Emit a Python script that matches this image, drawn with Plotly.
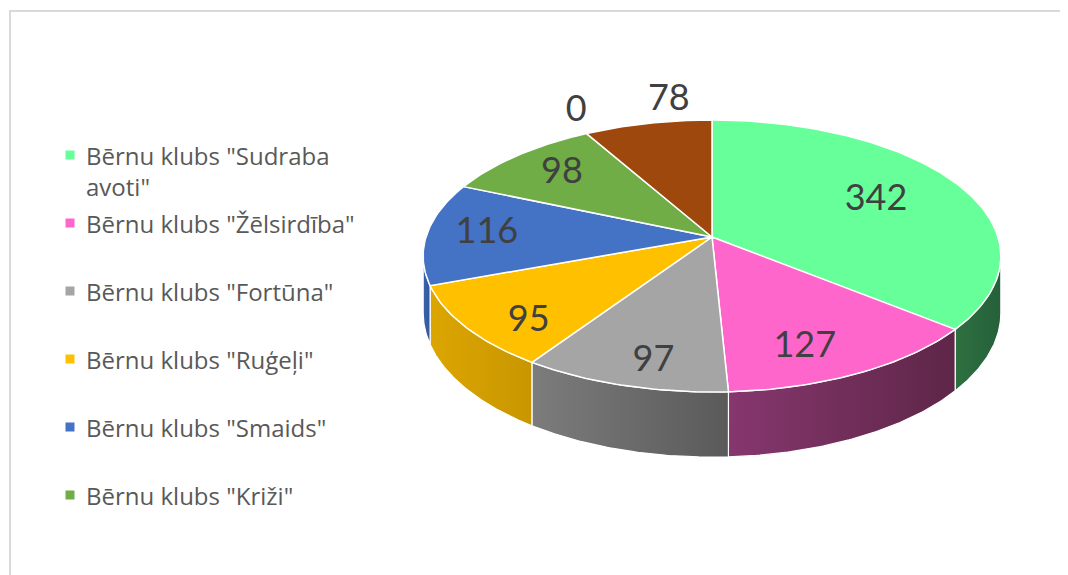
import numpy as np
import plotly.graph_objects as go

# ---- data ----
categories = [
    'Bērnu klubs "Sudraba avoti"',
    'Bērnu klubs "Žēlsirdība"',
    'Bērnu klubs "Fortūna"',
    'Bērnu klubs "Ruģeļi"',
    'Bērnu klubs "Smaids"',
    'Bērnu klubs "Križi"',
    "",
    "",
]
values = [342, 127, 97, 95, 116, 98, 0, 78]
legend_labels = [
    'Bērnu klubs "Sudraba<br>avoti"',
    'Bērnu klubs "Žēlsirdība"',
    'Bērnu klubs "Fortūna"',
    'Bērnu klubs "Ruģeļi"',
    'Bērnu klubs "Smaids"',
    'Bērnu klubs "Križi"',
]

# ---- styles ----
top_colors = ["#66FF99", "#FF66CC", "#A5A5A5", "#FFC000", "#4472C4", "#70AD47", "#264478", "#9E480E"]
side_colors = [
    ("#2E7040", "#25603A"),
    ("#86376E", "#5E2648"),
    ("#7C7C7C", "#5A5A5A"),
    ("#DCA600", "#C89600"),
    ("#3A64AE", "#33589A"),
    ("#5E9139", "#527F32"),
    ("#20396A", "#1C325C"),
    ("#853C0B", "#743409"),
]

W, Hpx = 1068, 575
OFF = 8                     # page body margin
cx, cy = 712.0, 237.0       # pie centre on the page
B, A = 286.0, 133.3         # horizontal / vertical radii
p = 0.14                    # perspective factor
H = 56.0                    # thickness


def proj(r, th, dz=0.0):
    X = r * np.sin(th)
    Z = r * np.cos(th)
    s = 1.0 / (1.0 + p * Z)
    return cx + B * X * s, cy - A * Z * s + H * dz * s


total = float(sum(values))
bounds = np.concatenate([[0.0], np.cumsum(values) / total * 2 * np.pi])

fig = go.Figure()

# side walls (front visible part only)
tv1 = np.arccos(-p)
tv2 = 2 * np.pi - tv1
for i, v in enumerate(values):
    a, b = bounds[i], bounds[i + 1]
    lo, hi = max(a, tv1), min(b, tv2)
    if hi <= lo:
        continue
    th = np.linspace(lo, hi, 80)
    xt, yt = proj(1.0, th)
    xb, yb = proj(1.0, th[::-1], 1.0)
    xs = np.concatenate([xt, xb, xt[:1]])
    ys = np.concatenate([yt, yb, yt[:1]])
    fig.add_trace(go.Scatter(
        x=xs, y=ys, mode="lines", fill="toself",
        line=dict(color="white", width=1.2),
        fillgradient=dict(type="horizontal",
                          colorscale=[[0, side_colors[i][0]], [1, side_colors[i][1]]]),
        hoverinfo="skip", showlegend=False))

# top faces
for i, v in enumerate(values):
    a, b = bounds[i], bounds[i + 1]
    if b - a <= 0:
        continue
    th = np.linspace(a, b, max(4, int((b - a) / (2 * np.pi) * 400)))
    xa, ya = proj(1.0, th)
    xs = np.concatenate([[cx], xa, [cx]])
    ys = np.concatenate([[cy], ya, [cy]])
    fig.add_trace(go.Scatter(
        x=xs, y=ys, mode="lines", fill="toself", fillcolor=top_colors[i],
        line=dict(color="white", width=1.5),
        name=categories[i], text=f"{categories[i]}: {v}", hoverinfo="text",
        showlegend=False))

# data labels
lx, ly, lt = [], [], []
ox, oy, ot, opos = [], [], [], []
for i, v in enumerate(values):
    a, b = bounds[i], bounds[i + 1]
    mid = (a + b) / 2
    if v / total < 0.09:
        x0, y0 = proj(1.0, mid)
        ox.append(x0)
        oy.append(y0 - 4)
        ot.append(str(v))
        opos.append("top right" if np.sin(mid) > -0.4 else "top left")
    else:
        r = 0.66 + 0.13 * max(0.0, -np.sin(mid))
        x0, y0 = proj(r, mid)
        y0 += 0.5 * H * max(0.0, -np.cos(mid))
        lx.append(x0)
        ly.append(y0)
        lt.append(str(v))

fig.add_trace(go.Scatter(x=lx, y=ly, text=lt, mode="text",
                         textfont=dict(family="Lato", size=36, color="#404040"),
                         hoverinfo="skip", showlegend=False))
fig.add_trace(go.Scatter(x=ox, y=oy, text=ot, mode="text",
                         textposition=opos,
                         textfont=dict(family="Lato", size=36, color="#404040"),
                         hoverinfo="skip", showlegend=False))

# legend (drawn manually)
leg_y0, leg_step = 155.0, 68.0
leg_ys = [leg_y0 + k * leg_step for k in range(len(legend_labels))]
fig.add_trace(go.Scatter(
    x=[70] * len(legend_labels), y=leg_ys, mode="markers",
    marker=dict(symbol="square", size=9, color=top_colors[:len(legend_labels)]),
    hoverinfo="skip", showlegend=False))
for k, lab in enumerate(legend_labels):
    fig.add_annotation(x=84, y=leg_ys[k] - 18, text=lab, showarrow=False,
                       xanchor="left", yanchor="top", align="left",
                       font=dict(family="Open Sans", size=24, color="#595959"))

# frame
fig.add_shape(type="line", x0=9, x1=W, y0=11, y1=11, line=dict(color="#D9D9D9", width=2))
fig.add_shape(type="line", x0=10, x1=10, y0=11, y1=Hpx, line=dict(color="#D9D9D9", width=2))

fig.update_layout(
    width=W - OFF, height=Hpx - OFF, margin=dict(l=0, r=0, t=0, b=0),
    paper_bgcolor="white", plot_bgcolor="white",
    xaxis=dict(range=[OFF, W], visible=False, fixedrange=True),
    yaxis=dict(range=[Hpx, OFF], visible=False, fixedrange=True),
    showlegend=False,
)

fig.write_html("out.html")
